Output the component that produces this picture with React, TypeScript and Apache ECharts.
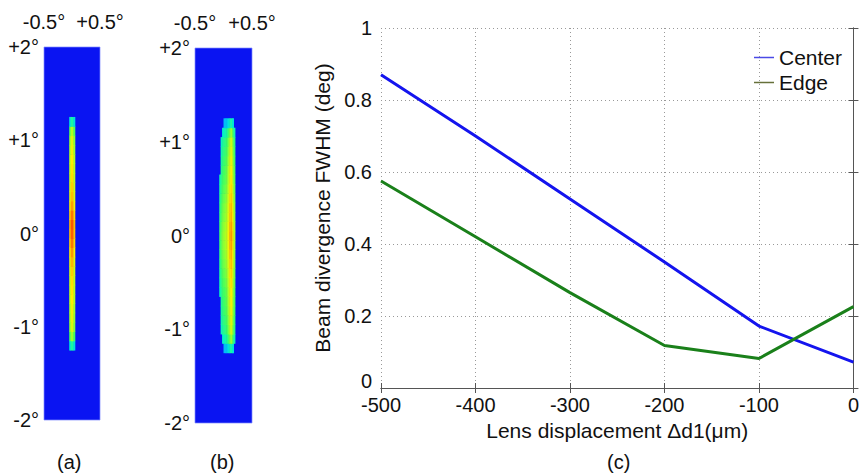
import React, { useEffect, useRef } from "react";
import * as echarts from "echarts";

// ---------- panel (c) data ----------
const displacement = [-500, -400, -300, -200, -100, 0];
const centerFWHM = [0.87, 0.7, 0.525, 0.35, 0.172, 0.072];
const edgeFWHM = [0.575, 0.42, 0.265, 0.118, 0.082, 0.226];

// ---------- panels (a),(b): far-field intensity maps ----------
// row centres along the slow axis (deg), bottom to top
const rowY = [-1.2, -1.1, -1.0, -0.9, -0.8, -0.7, -0.6, -0.5, -0.4, -0.3, -0.2, -0.1, 0, 0.1, 0.2, 0.3, 0.4, 0.5, 0.6, 0.7, 0.8, 0.9, 1.0, 1.1, 1.2];
// (a) peak normalised intensity per row
const aPeak = [0.44, 0.58, 0.65, 0.67, 0.68, 0.7, 0.71, 0.72, 0.74, 0.77, 0.81, 0.85, 0.88, 0.89, 0.85, 0.8, 0.76, 0.74, 0.72, 0.71, 0.7, 0.68, 0.66, 0.6, 0.44];
// (a) cross-section columns (deg) and relative profile
const aColX = [-0.0375, -0.0125, 0.0125, 0.0375];
const aCross = [0.86, 1.0, 1.0, 0.86];
// (b) peak normalised intensity per row
const bPeak = [0.44, 0.58, 0.64, 0.66, 0.68, 0.69, 0.7, 0.72, 0.74, 0.76, 0.78, 0.8, 0.81, 0.8, 0.78, 0.77, 0.75, 0.73, 0.71, 0.7, 0.68, 0.66, 0.64, 0.58, 0.44];
// (b) cross-section columns (deg) and relative profile
const bColX = [-0.0625, -0.0375, -0.0125, 0.0125, 0.0375, 0.0625, 0.0875, 0.1125, 0.1375, 0.1625, 0.1875];
const bCross = [0.6, 0.66, 0.7, 0.72, 0.74, 0.78, 0.86, 0.95, 1.0, 0.9, 0.74];
// (b) left / right edge of the beam per row (deg)
const bLeft = [-0.01, -0.035, -0.05, -0.06, -0.06, -0.06, -0.065, -0.065, -0.065, -0.065, -0.065, -0.065, -0.065, -0.065, -0.065, -0.065, -0.065, -0.065, -0.065, -0.06, -0.06, -0.06, -0.05, -0.035, -0.01];
const bRight = [0.17, 0.19, 0.19, 0.19, 0.19, 0.19, 0.19, 0.19, 0.19, 0.19, 0.19, 0.19, 0.19, 0.19, 0.19, 0.19, 0.19, 0.19, 0.19, 0.19, 0.19, 0.19, 0.19, 0.19, 0.17];

const angleTicksX = ["-0.5°", "+0.5°"];
const angleTicksY = ["-2°", "-1°", "0°", "+1°", "+2°"];

const CELL_W = 0.025;
const CELL_H = 0.1;

const JET = ["#0a14f2", "#0030ff", "#0070ff", "#00b0ff", "#00f0d0", "#40ff60", "#b0ff20", "#ffee00", "#ffa000", "#ff5000", "#ff1000"];

function buildA() {
  const out: number[][] = [];
  rowY.forEach((y, i) => aColX.forEach((x, j) => out.push([x, y, aPeak[i] * aCross[j]])));
  return out;
}
function buildB() {
  const out: number[][] = [];
  rowY.forEach((y, i) =>
    bColX.forEach((x, j) => {
      if (x >= bLeft[i] && x <= bRight[i]) out.push([x, y, bPeak[i] * bCross[j]]);
    })
  );
  return out;
}

function cellRenderer(params: any, api: any) {
  const c = api.coord([api.value(0), api.value(1)]);
  const s = api.size([CELL_W, CELL_H]);
  return {
    type: "rect",
    shape: { x: c[0] - s[0] / 2, y: c[1] - s[1] / 2, width: s[0] + 0.5, height: s[1] + 0.5 },
    style: { fill: api.visual("color") },
  };
}

const FONT = "Liberation Sans, Arial, sans-serif";
const TXT = { fontFamily: FONT, fontSize: 20, color: "#111" };

function angleXAxis(grid: number) {
  return {
    gridIndex: grid,
    type: "value",
    position: "top",
    min: -0.5,
    max: 0.5,
    interval: 0.5,
    axisLine: { show: false },
    axisTick: { show: false },
    splitLine: { show: false },
    axisLabel: {
      ...TXT,
      margin: 15,
      formatter: (v: number) => (v < 0 ? angleTicksX[0] : v > 0 ? angleTicksX[1] : ""),
    },
  };
}
function angleYAxis(grid: number) {
  return {
    gridIndex: grid,
    type: "value",
    min: -2,
    max: 2,
    interval: 1,
    axisLine: { show: false },
    axisTick: { show: false },
    splitLine: { show: false },
    axisLabel: { ...TXT, margin: 5, formatter: (v: number) => angleTicksY[v + 2] },
  };
}

export default function App() {
  const ref = useRef<HTMLDivElement>(null);
  useEffect(() => {
    if (!ref.current) return;
    const chart = echarts.init(ref.current, null, { renderer: "svg" });
    const frame = { color: "#555", width: 1 };
    chart.setOption({
      animation: false,
      backgroundColor: "#fff",
      textStyle: { fontFamily: FONT },
      grid: [
        { left: 44, top: 47, width: 56, height: 373, show: true, backgroundColor: JET[0], borderColor: "rgba(130,140,255,0.7)", borderWidth: 1 },
        { left: 195, top: 48, width: 57, height: 375, show: true, backgroundColor: JET[0], borderColor: "rgba(130,140,255,0.7)", borderWidth: 1 },
        { left: 381, top: 28, width: 476, height: 360 },
      ],
      xAxis: [
        angleXAxis(0),
        angleXAxis(1),
        {
          gridIndex: 2,
          type: "value",
          min: -500,
          max: 0,
          interval: 100,
          axisLine: { lineStyle: frame },
          axisTick: { inside: true, length: 5, lineStyle: frame },
          axisLabel: { ...TXT, margin: 9, lineHeight: 15 },
          splitLine: { show: true, lineStyle: { color: "#999", type: [1, 3], width: 1 } },
          name: "Lens displacement Δd1(μm)",
          nameLocation: "middle",
          nameGap: 32,
          nameTextStyle: { ...TXT, fontSize: 21 },
        },
        {
          gridIndex: 2,
          type: "value",
          position: "top",
          min: -500,
          max: 0,
          interval: 100,
          axisLine: { lineStyle: frame },
          axisTick: { inside: true, length: 5, lineStyle: frame },
          axisLabel: { show: false },
          splitLine: { show: false },
        },
      ],
      yAxis: [
        angleYAxis(0),
        angleYAxis(1),
        {
          gridIndex: 2,
          type: "value",
          min: 0,
          max: 1,
          interval: 0.2,
          axisLine: { show: true, lineStyle: frame },
          axisTick: { show: true, inside: true, length: 5, lineStyle: frame },
          axisLabel: { ...TXT, margin: 9, lineHeight: 15, verticalAlignMinLabel: "bottom" },
          splitLine: { show: true, lineStyle: { color: "#999", type: [1, 3], width: 1 } },
          name: "Beam divergence FWHM (deg)",
          nameLocation: "middle",
          nameGap: 48,
          nameTextStyle: { ...TXT, fontSize: 21 },
        },
        {
          gridIndex: 2,
          type: "value",
          position: "right",
          min: 0,
          max: 1,
          interval: 0.2,
          axisLine: { show: true, lineStyle: frame },
          axisTick: { show: true, inside: true, length: 5, lineStyle: frame },
          axisLabel: { show: false },
          splitLine: { show: false },
        },
      ],
      visualMap: {
        type: "continuous",
        show: false,
        min: 0,
        max: 1,
        dimension: 2,
        seriesIndex: [0, 1],
        inRange: { color: JET },
      },
      legend: {
        orient: "vertical",
        left: 749,
        top: 42,
        icon: "rect",
        itemWidth: 20,
        itemHeight: 1.5,
        itemGap: 4,
        textStyle: { ...TXT, fontSize: 21, lineHeight: 21 },
        data: [
          { name: "Center", itemStyle: { color: "#4a4ae6" } },
          { name: "Edge", itemStyle: { color: "#66703a" } },
        ],
      },
      series: [
        { type: "custom", xAxisIndex: 0, yAxisIndex: 0, renderItem: cellRenderer, encode: { x: 0, y: 1 }, data: buildA(), silent: true },
        { type: "custom", xAxisIndex: 1, yAxisIndex: 1, renderItem: cellRenderer, encode: { x: 0, y: 1 }, data: buildB(), silent: true },
        {
          name: "Center",
          type: "line",
          xAxisIndex: 2,
          yAxisIndex: 2,
          symbol: "none",
          color: "#1414ee",
          lineStyle: { color: "#1414ee", width: 3 },
          data: displacement.map((x, i) => [x, centerFWHM[i]]),
        },
        {
          name: "Edge",
          type: "line",
          xAxisIndex: 2,
          yAxisIndex: 2,
          symbol: "none",
          color: "#1a801a",
          lineStyle: { color: "#1a801a", width: 3 },
          data: displacement.map((x, i) => [x, edgeFWHM[i]]),
        },
      ],
      graphic: [
        { type: "text", left: 57, top: 452, style: { text: "(a)", font: `20px ${FONT}`, fill: "#111" } },
        { type: "text", left: 210, top: 452, style: { text: "(b)", font: `20px ${FONT}`, fill: "#111" } },
        { type: "text", left: 607, top: 452, style: { text: "(c)", font: `20px ${FONT}`, fill: "#111" } },
      ],
    });
    return () => chart.dispose();
  }, []);
  return <div ref={ref} style={{ position: "fixed", left: 0, top: 0, width: 862, height: 475 }} />;
}
